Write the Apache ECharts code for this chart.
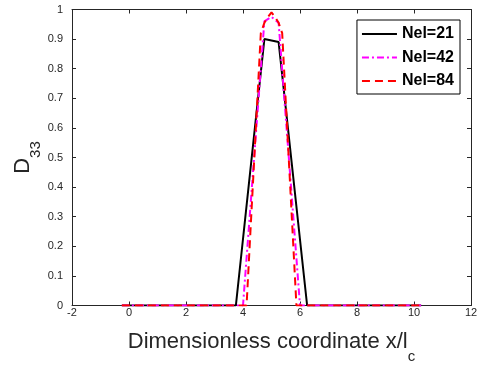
<!DOCTYPE html>
<html>
<head>
<meta charset="utf-8">
<script src="https://cdn.jsdelivr.net/npm/echarts@6/dist/echarts.min.js"></script>
<style>
html,body{margin:0;padding:0;background:#fff;}
#chart{width:481px;height:370px;}
</style>
</head>
<body>
<div id="chart"></div>
<script>
// Data
var seriesNames = ['Nel=21', 'Nel=42', 'Nel=84'];
var x21 = [-0.25, 3.75, 4.75, 5.25, 6.25, 10.25];
var y21 = [0, 0, 0.90, 0.89, 0, 0];
var x42 = [-0.25, 4.0, 4.75, 5.0, 5.25, 6.0, 10.25];
var y42 = [0, 0, 0.96, 0.975, 0.955, 0, 0];
var x84 = [-0.25, 4.125, 4.625, 4.75, 4.875, 5.0, 5.125, 5.25, 5.375, 5.875, 10.25];
var y84 = [0, 0, 0.92, 0.955, 0.975, 0.99, 0.975, 0.955, 0.92, 0, 0];
var xTicks = [-2, 0, 2, 4, 6, 8, 10, 12];
var yTicks = [0, 0.1, 0.2, 0.3, 0.4, 0.5, 0.6, 0.7, 0.8, 0.9, 1];

function pairs(xs, ys) { return xs.map(function (x, i) { return [x, ys[i]]; }); }

var axisColor = '#262626';
var font = 'Liberation Sans, Arial, Helvetica, sans-serif';

var chart = echarts.init(document.getElementById('chart'), null, {renderer: 'canvas'});
var baseAxis = {
  type: 'value',
  axisLine: {show: true, onZero: false, lineStyle: {color: axisColor, width: 1}},
  axisTick: {show: true, inside: true, length: 4, lineStyle: {color: axisColor, width: 1}},
  splitLine: {show: false}
};
var option = {
  animation: false,
  backgroundColor: '#fff',
  grid: {left: 72, right: 10, top: 9.5, bottom: 64.5, containLabel: false, outerBoundsMode: 'none'},
  xAxis: [
    Object.assign({}, baseAxis, {
      position: 'bottom', min: xTicks[0], max: xTicks[xTicks.length - 1], interval: 2,
      axisLabel: {color: axisColor, fontSize: 11, fontFamily: font, margin: 2},
      name: '{a|Dimensionless coordinate x/l}{b|c}',
      nameLocation: 'middle', nameGap: 25,
      nameTextStyle: {
        color: axisColor, fontFamily: font,
        rich: {
          a: {fontSize: 22, lineHeight: 22, verticalAlign: 'top', color: axisColor, fontFamily: font},
          b: {fontSize: 15, lineHeight: 15, padding: [19, 0, 0, 0], verticalAlign: 'top', color: axisColor, fontFamily: font}
        }
      }
    }),
    Object.assign({}, baseAxis, {
      position: 'top', min: xTicks[0], max: xTicks[xTicks.length - 1], interval: 2,
      axisLabel: {show: false}
    })
  ],
  yAxis: [
    Object.assign({}, baseAxis, {
      position: 'left', min: yTicks[0], max: yTicks[yTicks.length - 1], interval: 0.1,
      axisLabel: {color: axisColor, fontSize: 11, fontFamily: font, margin: 9,
        formatter: function (v) { return String(Math.round(v * 10) / 10); }},
      name: '{a|D}{b|33}',
      nameLocation: 'middle', nameGap: 38, nameRotate: 90, nameMoveOverlap: false,
      nameTextStyle: {
        color: axisColor, fontFamily: font,
        rich: {
          a: {fontSize: 22, lineHeight: 22, verticalAlign: 'top', color: axisColor, fontFamily: font},
          b: {fontSize: 15, lineHeight: 15, padding: [16, 0, 0, 0], verticalAlign: 'top', color: axisColor, fontFamily: font}
        }
      }
    }),
    Object.assign({}, baseAxis, {
      position: 'right', min: yTicks[0], max: yTicks[yTicks.length - 1], interval: 0.1,
      axisLabel: {show: false}
    })
  ],
  legend: {
    show: true,
    orient: 'vertical',
    right: 21, top: 20,
    padding: [6, 6, 5, 4],
    itemWidth: 35, itemHeight: 14, itemGap: 7.5,
    backgroundColor: '#fff',
    borderColor: '#000', borderWidth: 1, borderRadius: 0,
    itemStyle: {opacity: 0, borderWidth: 0},
    textStyle: {color: '#000', fontSize: 16, fontWeight: 'bold', fontFamily: font},
    data: seriesNames
  },
  series: [
    {name: seriesNames[0], type: 'line', data: pairs(x21, y21), symbol: 'none', showSymbol: false,
     lineStyle: {color: '#000000', width: 2, type: 'solid'}, itemStyle: {color: '#000000'}},
    {name: seriesNames[1], type: 'line', data: pairs(x42, y42), symbol: 'none', showSymbol: false,
     lineStyle: {color: '#ff00ff', width: 2, type: [7, 3, 2, 3]}, itemStyle: {color: '#ff00ff'}},
    {name: seriesNames[2], type: 'line', data: pairs(x84, y84), symbol: 'none', showSymbol: false,
     lineStyle: {color: '#ff0000', width: 2, type: [8, 5]}, itemStyle: {color: '#ff0000'}}
  ]
};
chart.setOption(option);
</script>
</body>
</html>
